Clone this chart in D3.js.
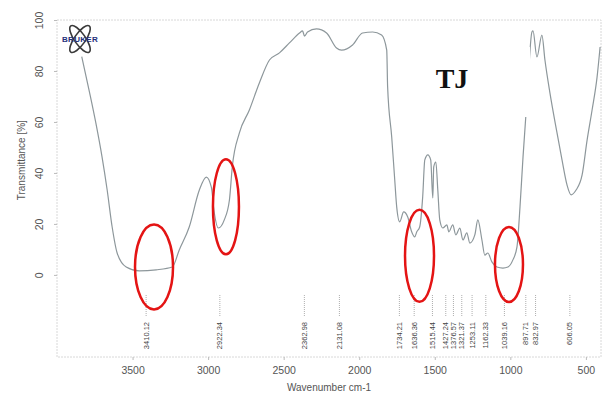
<!DOCTYPE html>
<html>
<head>
<meta charset="utf-8">
<script src="https://cdn.jsdelivr.net/npm/d3@7/dist/d3.min.js"></script>
<style>
  html, body { margin: 0; padding: 0; background: #fff; }
  svg { display: block; font-family: "Liberation Sans", Arial, sans-serif; }
</style>
</head>
<body>
<div id="chart"></div>
<script>
// spectrum (wavenumber cm-1, transmittance %)
const wavenumbers = [3836, 3788, 3743, 3702, 3668, 3635, 3602, 3542, 3456, 3344, 3237, 3191, 3125, 3058, 3012, 2979, 2959, 2932, 2893, 2859, 2840, 2793, 2727, 2661, 2594, 2528, 2462, 2395, 2375, 2362, 2342, 2283, 2216, 2150, 2117, 2044, 1978, 1911, 1852, 1818, 1812, 1785, 1765, 1752, 1732, 1706, 1679, 1653, 1633, 1619, 1600, 1580, 1566, 1546, 1527, 1513, 1507, 1493, 1480, 1467, 1447, 1420, 1407, 1381, 1361, 1334, 1314, 1288, 1268, 1235, 1215, 1188, 1169, 1149, 1122, 1089, 1049, 1016, 983, 956, 936, 916, 890, 857, 850, 824, 791, 771, 738, 691, 658, 625, 598, 565, 525, 492, 459, 426, 406];
const transmittance = [85.6, 72.5, 59.6, 46.3, 33.3, 18.8, 8.6, 3.1, 1.6, 2.0, 3.1, 9.8, 18.8, 33.3, 38.4, 34.5, 24.3, 18.4, 21.6, 29.4, 42.4, 55.7, 64.7, 75.3, 84.3, 87.1, 91.0, 94.9, 95.7, 93.7, 95.3, 96.5, 94.9, 89.0, 88.2, 90.2, 94.9, 95.3, 94.1, 88.2, 73.7, 54.1, 37.3, 26.7, 20.8, 24.7, 22.7, 16.9, 14.9, 16.9, 18.8, 30.6, 45.1, 47.1, 45.1, 30.2, 42.4, 44.3, 33.3, 21.6, 18.4, 19.6, 16.9, 19.6, 15.7, 18.4, 13.7, 16.5, 12.5, 15.7, 21.6, 13.7, 7.8, 8.6, 5.1, 3.1, 2.7, 3.1, 5.9, 11.0, 26.7, 46.3, 68.6, 95.3, 95.7, 85.5, 94.1, 84.3, 71.4, 55.7, 45.1, 35.3, 31.4, 33.3, 39.2, 52.9, 64.7, 77.6, 89.4];

const peakLabels = ['3410.12', '2922.34', '2362.98', '2131.08', '1734.21', '1636.36', '1515.44', '1427.24', '1376.57', '1321.37', '1253.11', '1162.33', '1039.16', '897.71', '832.97', '606.05'];

const xTicks = [3500, 3000, 2500, 2000, 1500, 1000, 500];
const yTicks = [0, 20, 40, 60, 80, 100];

// red rings drawn over the picture (centre wavenumber, centre transmittance)
const ringWavenumbers = [3358, 2882, 1601, 1009];
const ringTransmittance = [3.1, 26.7, 7.5, 4.1];

const W = 603, H = 398;
const margin = {top: 20, right: 2, bottom: 41, left: 57};

const svg = d3.select('#chart').append('svg')
    .attr('width', W)
    .attr('height', H);

const x = d3.scaleLinear().domain([4000, 400]).range([margin.left, W - margin.right]);
const y = d3.scaleLinear().domain([-32.2, 100]).range([H - margin.bottom, margin.top]);

const grey = '#555';

// frame
svg.append('rect')
    .attr('x', margin.left).attr('y', margin.top)
    .attr('width', W - margin.left - margin.right)
    .attr('height', H - margin.top - margin.bottom)
    .attr('fill', 'none')
    .attr('stroke', '#d8d8d8')
    .attr('stroke-dasharray', '2,1');

// axes
const gx = svg.append('g')
    .attr('transform', 'translate(0,' + (H - margin.bottom) + ')')
    .call(d3.axisBottom(x).tickValues(xTicks).tickSize(3).tickFormat(d3.format('d')));
gx.select('.domain').remove();
gx.selectAll('line').attr('stroke', '#bbb');
gx.selectAll('text').attr('fill', grey).style('font-size', '10.5px').attr('dy', '1.05em');

const gy = svg.append('g')
    .attr('transform', 'translate(' + margin.left + ',0)')
    .call(d3.axisLeft(y).tickValues(yTicks).tickSize(3));
gy.select('.domain').remove();
gy.selectAll('line').attr('stroke', '#bbb');
gy.selectAll('text')
    .attr('fill', grey)
    .style('font-size', '10.5px')
    .attr('x', null).attr('dy', null)
    .attr('text-anchor', 'middle')
    .attr('transform', 'translate(-14,0) rotate(-90)');

// axis titles
svg.append('text')
    .attr('x', (margin.left + W - margin.right) / 2)
    .attr('y', H - 7)
    .attr('text-anchor', 'middle')
    .attr('fill', grey)
    .style('font-size', '10px')
    .text('Wavenumber cm-1');

svg.append('text')
    .attr('transform', 'translate(25,' + y(45) + ') rotate(-90)')
    .attr('text-anchor', 'middle')
    .attr('fill', grey)
    .style('font-size', '10px')
    .text('Transmittance [%]');

// spectrum
const spectrum = wavenumbers.map((w, i) => ({x: w, y: transmittance[i]}));
const line = d3.line()
    .x(d => x(d.x))
    .y(d => y(d.y))
    .curve(d3.curveMonotoneX);

svg.append('path')
    .datum(spectrum)
    .attr('fill', 'none')
    .attr('stroke', '#8d979b')
    .attr('stroke-width', 1.2)
    .attr('stroke-linejoin', 'round')
    .attr('d', line);

// peak markers
const peaks = svg.append('g').selectAll('g')
    .data(peakLabels)
    .enter().append('g')
    .attr('transform', d => 'translate(' + x(+d) + ',0)');

peaks.append('line')
    .attr('y1', 295).attr('y2', 317)
    .attr('stroke', '#999')
    .attr('stroke-width', 0.8)
    .attr('stroke-dasharray', '1,1');

peaks.append('text')
    .attr('transform', 'translate(2.5,322) rotate(-90)')
    .attr('text-anchor', 'end')
    .attr('fill', '#444')
    .style('font-size', '7.5px')
    .text(d => d);

// red rings
const rx = [19, 13, 14.5, 14];
const ry = [42.5, 47.5, 46, 37.5];
svg.append('g').selectAll('ellipse')
    .data(ringWavenumbers)
    .enter().append('ellipse')
    .attr('cx', d => x(d))
    .attr('cy', (d, i) => y(ringTransmittance[i]))
    .attr('rx', (d, i) => rx[i])
    .attr('ry', (d, i) => ry[i])
    .attr('fill', 'none')
    .attr('stroke', '#e41414')
    .attr('stroke-width', 2.5);

// sample tag (pasted over the spectrum)
svg.append('rect')
    .attr('x', 410).attr('y', 47)
    .attr('width', 120).attr('height', 70)
    .attr('fill', '#fff');
svg.append('text')
    .attr('x', 452).attr('y', 88)
    .attr('text-anchor', 'middle')
    .attr('fill', '#111')
    .style('font-family', '"Liberation Serif", "DejaVu Serif", serif')
    .style('font-weight', 'bold')
    .style('font-size', '28px')
    .text('TJ');

// bruker logo
const logo = svg.append('g').attr('transform', 'translate(80,39)');
[-55, 55].forEach(a => {
    logo.append('ellipse')
        .attr('rx', 16).attr('ry', 5.5)
        .attr('transform', 'rotate(' + a + ')')
        .attr('fill', 'none')
        .attr('stroke', '#3a3a3a')
        .attr('stroke-width', 1.6);
});
logo.append('text')
    .attr('y', 3)
    .attr('text-anchor', 'middle')
    .attr('fill', '#24307a')
    .style('font-size', '8px')
    .style('font-weight', 'bold')
    .style('letter-spacing', '0.3px')
    .text('BRUKER');
</script>
</body>
</html>
